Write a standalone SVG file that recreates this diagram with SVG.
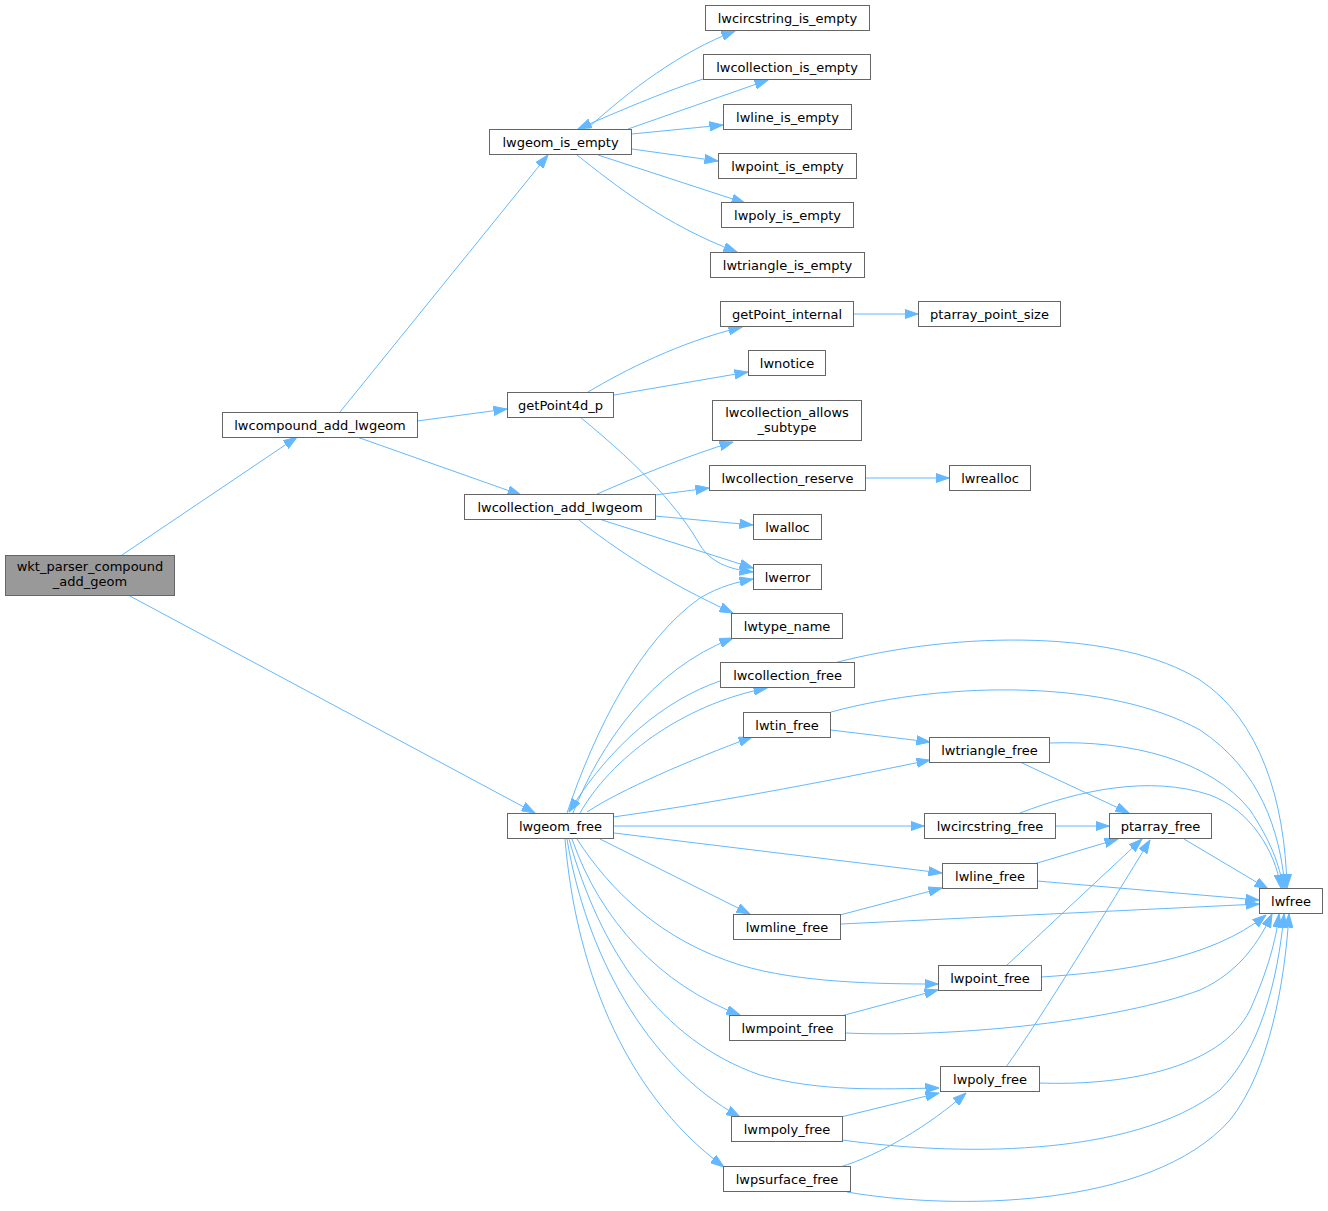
<svg xmlns="http://www.w3.org/2000/svg" width="1328" height="1211" viewBox="0 0 1328 1211">
<defs>
<style>
.n rect{fill:#ffffff;stroke:#666666;stroke-width:1}
.n.root rect{fill:#999999}
.n text{font-family:"DejaVu Sans",sans-serif;font-size:13px;fill:#000000;text-anchor:middle}
.e path{fill:none;stroke:#63b8ff;stroke-width:1;marker-end:url(#ah)}
</style>
<marker id="ah" viewBox="0 0 14 10" refX="13.5" refY="5" markerWidth="14" markerHeight="10" markerUnits="userSpaceOnUse" orient="auto">
<path d="M0,0.3 L13.5,5 L0,9.7 z" fill="#63b8ff" stroke="#63b8ff" stroke-width="1"/>
</marker>
</defs>
<rect width="1328" height="1211" fill="#ffffff"/>
<g id="edges" class="e">
<path d="M122,555 L297,437"/>
<path d="M128,595 L535,813"/>
<path d="M340,412 L548,155"/>
<path d="M417,421 L507,409"/>
<path d="M357,437 L521,495"/>
<path d="M588,128 C630,90 680,52 735,31"/>
<path d="M703,79 C670,90 630,106 578,129"/>
<path d="M628,129 L768,80"/>
<path d="M632,134 L723,125"/>
<path d="M632,149 L718,161"/>
<path d="M598,155 L745,203"/>
<path d="M577,155 C615,185 665,225 737,252"/>
<path d="M588,392 C625,370 680,342 742,327"/>
<path d="M614,395 L748,372"/>
<path d="M580,417 C645,470 680,510 700,545 C712,565 735,570 753,572"/>
<path d="M595,495 C640,475 690,455 733,442"/>
<path d="M655,495 L709,488"/>
<path d="M655,516 L753,525"/>
<path d="M602,520 L753,568"/>
<path d="M579,520 C612,547 665,582 733,613"/>
<path d="M866,478 L949,478"/>
<path d="M854,314 L918,314"/>
<path d="M567,813 C595,730 640,640 700,598 C720,586 738,582 753,579"/>
<path d="M573,813 C600,745 650,670 733,638"/>
<path d="M580,813 C610,760 680,705 767,688"/>
<path d="M720,681 C665,700 610,745 569,812"/>
<path d="M587,812 C620,790 690,760 752,737"/>
<path d="M613,817 C700,805 820,783 930,760"/>
<path d="M614,826 L924,826"/>
<path d="M614,833 L942,873"/>
<path d="M600,839 L750,914"/>
<path d="M577,839 C610,890 660,940 740,965 C800,983 880,984 938,984"/>
<path d="M572,839 C600,920 660,985 740,1015"/>
<path d="M569,839 C600,950 660,1040 760,1075 C820,1092 880,1089 939,1088"/>
<path d="M567,839 C585,950 645,1065 740,1117"/>
<path d="M565,839 C575,960 620,1090 724,1167"/>
<path d="M834,663 C960,630 1120,630 1200,680 C1260,720 1285,800 1287,888"/>
<path d="M831,712 C950,680 1110,680 1200,730 C1260,770 1280,830 1285,888"/>
<path d="M831,730 L930,742"/>
<path d="M1050,743 C1130,740 1210,760 1250,810 C1270,840 1280,865 1283,888"/>
<path d="M1020,762 L1129,813"/>
<path d="M1055,826 L1109,826"/>
<path d="M1020,813 C1080,790 1150,775 1210,795 C1250,810 1275,850 1281,888"/>
<path d="M1184,839 L1268,889"/>
<path d="M1034,864 L1118,839"/>
<path d="M1037,881 L1259,900"/>
<path d="M840,915 L942,888"/>
<path d="M841,924 L1259,904"/>
<path d="M1006,966 L1142,839"/>
<path d="M1006,1067 C1040,1020 1110,905 1150,840"/>
<path d="M1041,977 C1120,972 1210,960 1266,915"/>
<path d="M845,1033 C960,1038 1120,1020 1200,990 C1240,972 1260,940 1272,914"/>
<path d="M1039,1083 C1120,1086 1220,1070 1250,1010 C1268,970 1276,940 1279,914"/>
<path d="M842,1140 C950,1155 1130,1160 1220,1090 C1260,1050 1278,980 1284,914"/>
<path d="M847,1192 C950,1210 1150,1210 1230,1120 C1270,1070 1285,980 1289,914"/>
<path d="M841,1117 L939,1093"/>
<path d="M840,1167 C880,1155 930,1125 966,1093"/>
<path d="M841,1016 L938,990"/>
</g>
<g id="wkt_parser_compound_add_geom" class="n root"><rect x="5.5" y="555.5" width="169" height="40"/><text x="90" y="571">wkt_parser_compound</text><text x="90" y="586">_add_geom</text></g>
<g id="lwcompound_add_lwgeom" class="n"><rect x="222.5" y="412.5" width="195" height="25"/><text x="320" y="429.5">lwcompound_add_lwgeom</text></g>
<g id="lwgeom_is_empty" class="n"><rect x="489.5" y="129.5" width="142" height="25"/><text x="560.5" y="146.5">lwgeom_is_empty</text></g>
<g id="getPoint4d_p" class="n"><rect x="507.5" y="392.5" width="106" height="25"/><text x="560.5" y="409.5">getPoint4d_p</text></g>
<g id="lwcollection_add_lwgeom" class="n"><rect x="464.5" y="494.5" width="191" height="25"/><text x="560" y="511.5">lwcollection_add_lwgeom</text></g>
<g id="lwgeom_free" class="n"><rect x="507.5" y="813.5" width="106" height="25"/><text x="560.5" y="830.5">lwgeom_free</text></g>
<g id="lwcircstring_is_empty" class="n"><rect x="705.5" y="5.5" width="164" height="25"/><text x="787.5" y="22.5">lwcircstring_is_empty</text></g>
<g id="lwcollection_is_empty" class="n"><rect x="703.5" y="54.5" width="167" height="25"/><text x="787" y="71.5">lwcollection_is_empty</text></g>
<g id="lwline_is_empty" class="n"><rect x="723.5" y="104.5" width="128" height="25"/><text x="787.5" y="121.5">lwline_is_empty</text></g>
<g id="lwpoint_is_empty" class="n"><rect x="718.5" y="153.5" width="138" height="25"/><text x="787.5" y="170.5">lwpoint_is_empty</text></g>
<g id="lwpoly_is_empty" class="n"><rect x="721.5" y="202.5" width="132" height="25"/><text x="787.5" y="219.5">lwpoly_is_empty</text></g>
<g id="lwtriangle_is_empty" class="n"><rect x="710.5" y="252.5" width="154" height="25"/><text x="787.5" y="269.5">lwtriangle_is_empty</text></g>
<g id="getPoint_internal" class="n"><rect x="720.5" y="301.5" width="133" height="25"/><text x="787" y="318.5">getPoint_internal</text></g>
<g id="ptarray_point_size" class="n"><rect x="918.5" y="301.5" width="142" height="25"/><text x="989.5" y="318.5">ptarray_point_size</text></g>
<g id="lwnotice" class="n"><rect x="748.5" y="350.5" width="77" height="25"/><text x="787" y="367.5">lwnotice</text></g>
<g id="lwcollection_allows_subtype" class="n"><rect x="712.5" y="400.5" width="149" height="40"/><text x="787" y="416.5">lwcollection_allows</text><text x="787" y="431.5">_subtype</text></g>
<g id="lwcollection_reserve" class="n"><rect x="709.5" y="465.5" width="156" height="25"/><text x="787.5" y="482.5">lwcollection_reserve</text></g>
<g id="lwrealloc" class="n"><rect x="949.5" y="465.5" width="81" height="25"/><text x="990" y="482.5">lwrealloc</text></g>
<g id="lwalloc" class="n"><rect x="753.5" y="514.5" width="68" height="25"/><text x="787.5" y="531.5">lwalloc</text></g>
<g id="lwerror" class="n"><rect x="753.5" y="564.5" width="68" height="25"/><text x="787.5" y="581.5">lwerror</text></g>
<g id="lwtype_name" class="n"><rect x="731.5" y="613.5" width="111" height="25"/><text x="787" y="630.5">lwtype_name</text></g>
<g id="lwcollection_free" class="n"><rect x="720.5" y="662.5" width="134" height="25"/><text x="787.5" y="679.5">lwcollection_free</text></g>
<g id="lwtin_free" class="n"><rect x="743.5" y="712.5" width="87" height="25"/><text x="787" y="729.5">lwtin_free</text></g>
<g id="lwtriangle_free" class="n"><rect x="929.5" y="737.5" width="120" height="25"/><text x="989.5" y="754.5">lwtriangle_free</text></g>
<g id="lwcircstring_free" class="n"><rect x="924.5" y="813.5" width="131" height="25"/><text x="990" y="830.5">lwcircstring_free</text></g>
<g id="ptarray_free" class="n"><rect x="1109.5" y="813.5" width="102" height="25"/><text x="1160.5" y="830.5">ptarray_free</text></g>
<g id="lwline_free" class="n"><rect x="942.5" y="863.5" width="95" height="25"/><text x="990" y="880.5">lwline_free</text></g>
<g id="lwfree" class="n"><rect x="1259.5" y="888.5" width="63" height="25"/><text x="1291" y="905.5">lwfree</text></g>
<g id="lwmline_free" class="n"><rect x="733.5" y="914.5" width="107" height="25"/><text x="787" y="931.5">lwmline_free</text></g>
<g id="lwpoint_free" class="n"><rect x="938.5" y="965.5" width="103" height="25"/><text x="990" y="982.5">lwpoint_free</text></g>
<g id="lwmpoint_free" class="n"><rect x="729.5" y="1015.5" width="116" height="25"/><text x="787.5" y="1032.5">lwmpoint_free</text></g>
<g id="lwpoly_free" class="n"><rect x="940.5" y="1066.5" width="99" height="25"/><text x="990" y="1083.5">lwpoly_free</text></g>
<g id="lwmpoly_free" class="n"><rect x="731.5" y="1116.5" width="111" height="25"/><text x="787" y="1133.5">lwmpoly_free</text></g>
<g id="lwpsurface_free" class="n"><rect x="723.5" y="1166.5" width="127" height="25"/><text x="787" y="1183.5">lwpsurface_free</text></g>
</svg>
